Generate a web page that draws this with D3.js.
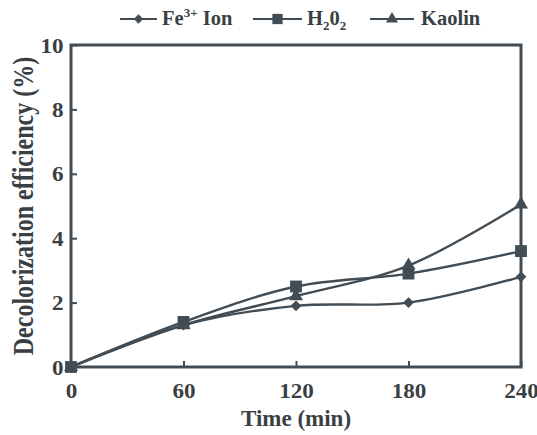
<!DOCTYPE html>
<html>
<head>
<meta charset="utf-8">
<script src="https://cdn.jsdelivr.net/npm/d3@7"></script>
<style>
  body { margin: 0; background: #fff; }
</style>
</head>
<body>
<div id="chart"></div>
<script>
// data
var times = [0, 60, 120, 180, 240];
var feIon = [0, 1.3, 1.9, 2.0, 2.8];
var h2o2 = [0, 1.4, 2.5, 2.9, 3.6];
var kaolin = [0, 1.3, 2.2, 3.15, 5.05];
var yTicks = [0, 2, 4, 6, 8, 10];

var width = 537, height = 435;
var margin = {left: 71, right: 16, top: 45, bottom: 68};
var ink = "#414c54";
var textInk = "#3a3f44";

var svg = d3.select("#chart").append("svg")
  .attr("width", width)
  .attr("height", height);

var x = d3.scaleLinear().domain([0, 240]).range([margin.left, width - margin.right]);
var y = d3.scaleLinear().domain([0, 10]).range([height - margin.bottom, margin.top]);

//frame
svg.append("rect")
  .attr("x", x(0)).attr("y", y(10))
  .attr("width", x(240) - x(0)).attr("height", y(0) - y(10))
  .attr("fill", "none").attr("stroke", ink).attr("stroke-width", 3);

//axes, ticks point inward
var xAxis = svg.append("g")
  .attr("transform", "translate(0," + y(0) + ")")
  .call(d3.axisBottom(x).tickValues(times).tickSizeInner(-6).tickSizeOuter(0).tickPadding(10));
var yAxis = svg.append("g")
  .attr("transform", "translate(" + x(0) + ",0)")
  .call(d3.axisLeft(y).tickValues(yTicks).tickSizeInner(-6).tickSizeOuter(0).tickPadding(7));

[xAxis, yAxis].forEach(function(g) {
  g.select(".domain").remove();
  g.attr("font-family", null).attr("font-size", null);
  g.selectAll("line").attr("stroke", ink).attr("stroke-width", 2);
  g.selectAll("text").style("font-size", "22px")
    .attr("transform", "scale(1.05,1)");
});
xAxis.selectAll("text").attr("dy", "0.95em");

//axis titles
svg.append("text")
  .attr("x", (x(0) + x(240)) / 2).attr("y", 426)
  .attr("text-anchor", "middle").style("font-size", "23px")
  .text("Time (min)");
svg.append("text")
  .attr("transform", "translate(33,206) rotate(-90) scale(1,1.2)")
  .attr("text-anchor", "middle").style("font-size", "24px")
  .text("Decolorization efficiency (%)");

var line = d3.line()
  .x(function(d, i) { return x(times[i]); })
  .y(function(d) { return y(d); })
  .curve(d3.curveCatmullRom.alpha(0.5));

var series = [
  {name: "fe", values: feIon, symbol: d3.symbolDiamond2, size: 75},
  {name: "h2o2", values: h2o2, symbol: d3.symbolSquare, size: 140},
  {name: "kaolin", values: kaolin, symbol: d3.symbolTriangle, size: 85}
];

series.forEach(function(s) {
  svg.append("path")
    .datum(s.values)
    .attr("fill", "none")
    .attr("stroke", ink)
    .attr("stroke-width", 2.4)
    .attr("d", line);
});

series.forEach(function(s) {
  svg.selectAll("path.m-" + s.name)
    .data(s.values)
    .enter().append("path")
    .attr("class", "m-" + s.name)
    .attr("transform", function(d, i) { return "translate(" + x(times[i]) + "," + y(d) + ")"; })
    .attr("d", d3.symbol().type(s.symbol).size(s.size))
    .attr("fill", ink);
});

//legend
var legendY = 19;
var legend = [
  {sym: series[0], x1: 120, x2: 157},
  {sym: series[1], x1: 253, x2: 302},
  {sym: series[2], x1: 370, x2: 414}
];
legend.forEach(function(l) {
  svg.append("line")
    .attr("x1", l.x1).attr("x2", l.x2).attr("y1", legendY).attr("y2", legendY)
    .attr("stroke", ink).attr("stroke-width", 2);
  svg.append("path")
    .attr("transform", "translate(" + ((l.x1 + l.x2) / 2) + "," + legendY + ")")
    .attr("d", d3.symbol().type(l.sym.symbol).size(l.sym.size * 0.75))
    .attr("fill", ink);
});

var t1 = svg.append("text").attr("x", 162).attr("y", legendY + 6).style("font-size", "20.5px");
t1.append("tspan").text("Fe");
t1.append("tspan").attr("dy", -8).style("font-size", "13px").text("3+");
t1.append("tspan").attr("dy", 8).text(" Ion");

var t2 = svg.append("text").attr("x", 307).attr("y", legendY + 6).style("font-size", "20.5px");
t2.append("tspan").text("H");
t2.append("tspan").attr("dy", 5).style("font-size", "13px").text("2");
t2.append("tspan").attr("dy", -5).text("0");
t2.append("tspan").attr("dy", 5).style("font-size", "13px").text("2");

svg.append("text").attr("x", 421).attr("y", legendY + 6).style("font-size", "20.5px").text("Kaolin");

svg.selectAll("text")
  .style("font-family", "'Liberation Serif', 'Times New Roman', serif")
  .style("font-weight", "bold")
  .attr("fill", textInk);
</script>
</body>
</html>
